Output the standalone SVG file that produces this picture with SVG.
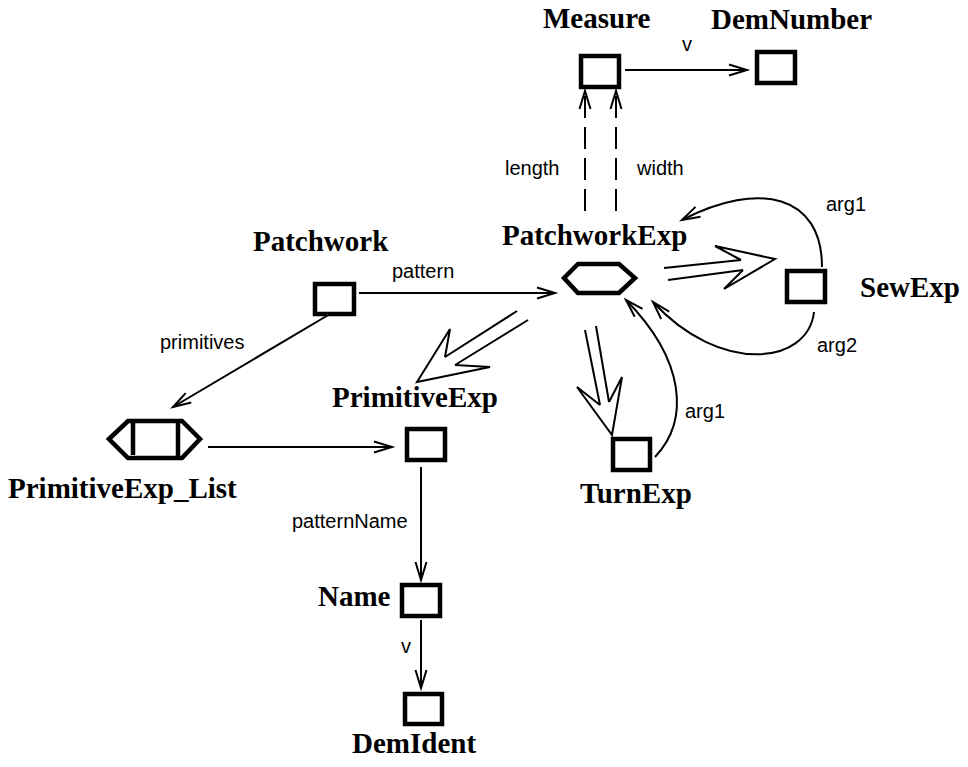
<svg xmlns="http://www.w3.org/2000/svg" width="968" height="767" viewBox="0 0 968 767">
<style>
.box{fill:#fff;stroke:#000;stroke-width:4.5}
.nl{font-family:"Liberation Serif","Times New Roman",serif;font-weight:bold;font-size:29px;fill:#000}
.el{font-family:"Liberation Sans",Arial,sans-serif;font-size:20px;fill:#000}
.ln{fill:none;stroke:#000;stroke-width:2}
.dash{fill:none;stroke:#000;stroke-width:2;stroke-dasharray:22 9;stroke-dashoffset:26}
.inh{fill:none;stroke:#000;stroke-width:2;stroke-linejoin:miter}
</style>
<defs>
<marker id="ah" markerUnits="userSpaceOnUse" markerWidth="40" markerHeight="40" viewBox="-20 -20 40 40" refX="0" refY="0" orient="auto-start-reverse" overflow="visible">
<path d="M-18,-5.5 L0,0 L-18,5.5" fill="none" stroke="#000" stroke-width="2"/>
</marker>
</defs>
<rect width="968" height="767" fill="#fff"/>
<g id="connectors">
<line class="ln" x1="625" y1="70" x2="747" y2="70" marker-end="url(#ah)"/>
<text class="el" x="682" y="51">v</text>
<line class="dash" x1="585" y1="91" x2="585" y2="218" marker-start="url(#ah)"/>
<line class="dash" x1="616" y1="91" x2="616" y2="218" marker-start="url(#ah)"/>
<text class="el" x="505" y="175">length</text>
<text class="el" x="637" y="175">width</text>
<line class="ln" x1="359" y1="293" x2="555" y2="293" marker-end="url(#ah)"/>
<text class="el" x="392" y="278">pattern</text>
<line class="ln" x1="330" y1="314" x2="173" y2="407" marker-end="url(#ah)"/>
<text class="el" x="160" y="349">primitives</text>
<line class="ln" x1="208" y1="447" x2="392" y2="447" marker-end="url(#ah)"/>
<line class="ln" x1="421" y1="467" x2="421" y2="580" marker-end="url(#ah)"/>
<text class="el" x="292" y="528">patternName</text>
<line class="ln" x1="421" y1="620" x2="421" y2="688" marker-end="url(#ah)"/>
<text class="el" x="401" y="653">v</text>
<path class="ln" d="M822,267 C822,195 760,180 682,220" marker-end="url(#ah)"/>
<text class="el" x="826" y="211">arg1</text>
<path class="ln" d="M814,312 C808,365 720,375 653,302" marker-end="url(#ah)"/>
<text class="el" x="817" y="352">arg2</text>
<path class="ln" d="M655,457 C690,420 685,360 626,300" marker-end="url(#ah)"/>
<text class="el" x="685" y="418">arg1</text>
<!-- inheritance: PatchworkExp -> SewExp -->
<line class="inh" x1="664" y1="268" x2="741" y2="260"/>
<line class="inh" x1="668" y1="280" x2="743" y2="270"/>
<polyline class="inh" points="741,260 715,246 775,259 724,289 743,270"/>
<!-- inheritance: PatchworkExp -> PrimitiveExp -->
<line class="inh" x1="517" y1="311" x2="445" y2="357"/>
<line class="inh" x1="528" y1="320" x2="455" y2="365"/>
<polyline class="inh" points="445,357 450,329 417,382 490,367 455,365"/>
<!-- inheritance: PatchworkExp -> TurnExp -->
<line class="inh" x1="585" y1="330" x2="600" y2="405"/>
<line class="inh" x1="596" y1="326" x2="609" y2="402"/>
<polyline class="inh" points="600,405 577,387 612,435 622,377 609,402"/>
</g>
<g id="Measure">
<rect class="box" x="581" y="56" width="38" height="31"/>
<text class="nl" x="543" y="28">Measure</text>
</g>
<g id="DemNumber">
<rect class="box" x="757" y="52" width="38" height="31"/>
<text class="nl" x="711" y="29">DemNumber</text>
</g>
<g id="PatchworkExp">
<polygon points="564,278 578,264 619,264 635,278 619,293 578,293" fill="#fff" stroke="#000" stroke-width="4.5" stroke-linejoin="miter"/>
<text class="nl" x="502" y="245">PatchworkExp</text>
</g>
<g id="Patchwork">
<rect class="box" x="315" y="284" width="39" height="30"/>
<text class="nl" x="253" y="251">Patchwork</text>
</g>
<g id="SewExp">
<rect class="box" x="787" y="271" width="38" height="31"/>
<text class="nl" x="860" y="297">SewExp</text>
</g>
<g id="PrimitiveExp_List">
<polygon points="109,439 128,421 182,421 200,439 182,458 128,458" fill="#fff" stroke="#000" stroke-width="4.5"/>
<line x1="133" y1="421" x2="133" y2="455" stroke="#000" stroke-width="4.5"/>
<line x1="178" y1="421" x2="178" y2="458" stroke="#000" stroke-width="4.5"/>
<text class="nl" x="8" y="498">PrimitiveExp_List</text>
</g>
<g id="PrimitiveExp">
<rect class="box" x="407" y="429" width="38" height="31"/>
<text class="nl" x="332" y="407">PrimitiveExp</text>
</g>
<g id="TurnExp">
<rect class="box" x="613" y="439" width="37" height="31"/>
<text class="nl" x="580" y="503">TurnExp</text>
</g>
<g id="Name">
<rect class="box" x="402" y="585" width="38" height="31"/>
<text class="nl" x="318" y="606">Name</text>
</g>
<g id="DemIdent">
<rect class="box" x="405" y="694" width="37" height="30"/>
<text class="nl" x="352" y="753">DemIdent</text>
</g>
</svg>
